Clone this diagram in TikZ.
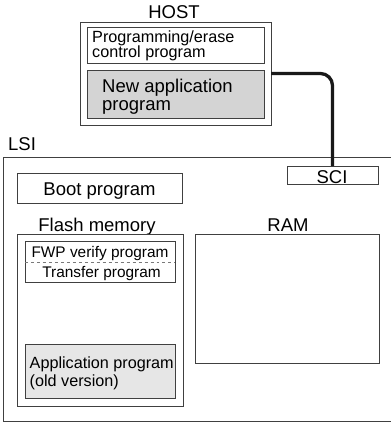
\documentclass[tikz,border=0pt]{standalone}
\usepackage{fontspec}
\setmainfont{Liberation Sans}
\definecolor{edge}{HTML}{404040}
\definecolor{newgray}{HTML}{D4D4D4}
\definecolor{oldgray}{HTML}{E6E6E6}
\begin{document}
\begin{tikzpicture}[x=1bp,y=-1bp,
  box/.style={draw=edge, line width=0.9bp, anchor=north west, inner sep=0pt, outer sep=0pt},
  big/.style={font=\fontsize{18.5bp}{20bp}\selectfont, inner sep=0pt},
  mid/.style={font=\fontsize{16.2bp}{18bp}\selectfont, inner sep=0pt},
  small/.style={font=\fontsize{15.4bp}{17bp}\selectfont, inner sep=0pt},
  link/.style={line width=3.3bp, rounded corners=12bp, black!90}]
\useasboundingbox (0,0) rectangle (391,424);

% HOST
\node[big, anchor=base] (hostlbl) at (174,18) {HOST};
\node[box, minimum width=191bp, minimum height=103bp] (host) at (80,22) {};
\node[box, minimum width=177bp, minimum height=36bp] (pe) at (87,27) {};
\node[mid, anchor=base west] (pe1) at (92,42) {Programming/erase};
\node[mid, anchor=base west] (pe2) at (92,57) {control program};
\node[box, fill=newgray, minimum width=177bp, minimum height=48bp] (newapp) at (87,70) {};
\node[big, anchor=base west] (na1) at (102,92.5) {New application};
\node[big, anchor=base west] (na2) at (102,110) {program};

% LSI
\node[big, anchor=base west] (lsilbl) at (8,150.5) {LSI};
\coordinate (lsitr) at (391,157.5);
\coordinate (lsitl) at (3,157.5);
\coordinate (lsibl) at (3,421);
\coordinate (lsibr) at (391,421);
\draw[draw=edge, line width=1bp] (lsitr) -- (lsitl) -- (lsibl) -- (lsibr);

\node[box, minimum width=91bp, minimum height=18bp] (sci) at (287,166) {};
\node[big, anchor=base] (scit) at (332,183) {SCI};

\node[box, minimum width=165bp, minimum height=30bp] (boot) at (17,173) {};
\node[big, anchor=base] (boott) at (99.5,195) {Boot program};

\node[big, anchor=base] (flashlbl) at (97,231) {Flash memory};
\node[big, anchor=base] (ramlbl) at (288,231) {RAM};

\node[box, minimum width=166bp, minimum height=172bp] (flash) at (17,234) {};
\node[box, minimum width=184bp, minimum height=129bp] (ram) at (195,234) {};

\node[box, minimum width=150bp, minimum height=41bp] (fwp) at (25,241) {};
\draw[dashed, draw=edge!70, line width=0.8bp] (fwp.west |- 0,262) -- (fwp.east |- 0,262);
\node[small, anchor=base] (fwpt) at (100,257) {FWP verify program};
\node[small, anchor=base] (trt) at (101.5,277.5) {Transfer program};

\node[box, fill=oldgray, minimum width=150bp, minimum height=54bp] (app) at (25,344) {};
\node[mid, anchor=base west] (app1) at (29.5,368.5) {Application program};
\node[mid, anchor=base west] (app2) at (29.5,386.5) {(old version)};

% connector
\draw[link] (host.east) -| (sci.north);
\end{tikzpicture}
\end{document}
